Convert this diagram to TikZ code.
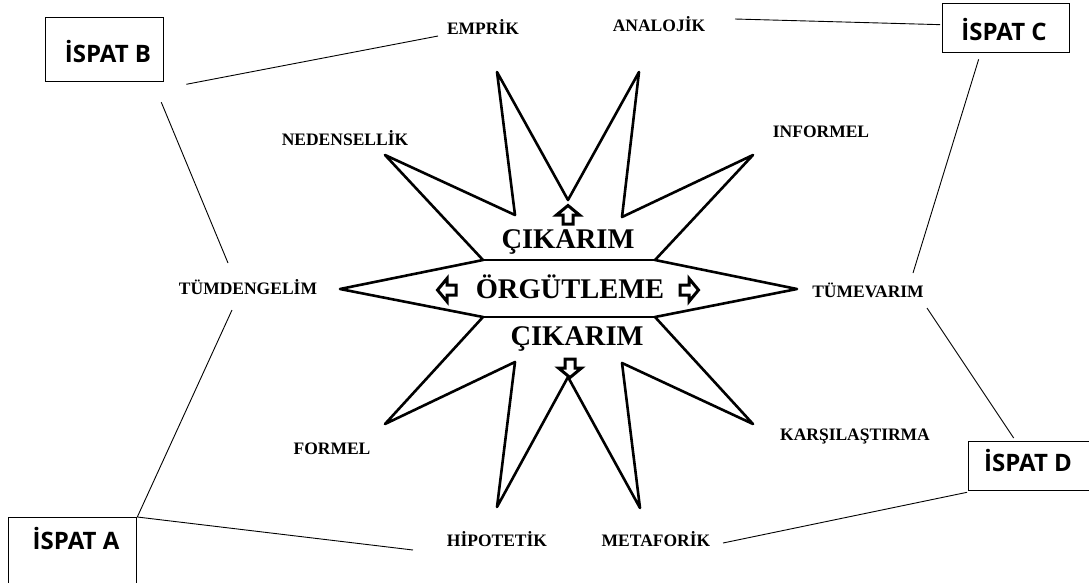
\documentclass[tikz,border=0pt]{standalone}
\usepackage{fontspec}
\setmainfont{Liberation Serif}
\newfontfamily\ispatfont{Open Sans}
\tikzset{
  starline/.style={line width=2.6pt, line join=round},
  conn/.style={line width=0.9pt},
  ispatbox/.style={draw, line width=1.3pt, inner sep=0pt, anchor=north west},
  ispattext/.style={anchor=base, inner sep=0pt, font=\ispatfont\bfseries\fontsize{24}{26}\selectfont},
  lab/.style={anchor=base, inner sep=0pt, font=\bfseries\fontsize{17.5}{20}\selectfont},
  bigtext/.style={anchor=base, inner sep=0pt, font=\bfseries\fontsize{28.5}{30}\selectfont},
  hollow/.style={line width=3pt, fill=white, line join=miter}
}
\newcommand\hollowarrow[3]{%
  \draw[hollow, shift={(#1,#2)}, rotate=#3] (-9,-5) -- (0,-5) -- (0,-11.5) -- (9.5,0) -- (0,11.5) -- (0,5) -- (-9,5) -- cycle;}
\begin{document}
\begin{tikzpicture}[x=1pt,y=-1pt]
\useasboundingbox[fill=white] (0,0) rectangle (1089,582);

% star
\draw[starline] (340,289) -- (483,260) -- (385,155) -- (515,215) -- (497,72) -- (568,200)
  -- (639,72) -- (622,217) -- (753,155) -- (655,260) -- (797,289) -- (655,317)
  -- (753,424) -- (622,363) -- (640,508) -- (568,377) -- (497,507) -- (515,362)
  -- (385,424) -- (483,317) -- cycle;
\draw[starline] (483,260) -- (655,260);
\draw[starline] (483,317) -- (655,317);

% small hollow arrows
\hollowarrow{568}{215}{90}
\hollowarrow{570}{368}{-90}
\hollowarrow{447}{290}{180}
\hollowarrow{689}{290}{0}

% centre texts
\node[bigtext] (cik1) at (568,248) {ÇIKARIM};
\node[bigtext] (org) at (570,298) {ÖRGÜTLEME};
\node[bigtext] (cik2) at (577,345) {ÇIKARIM};

% labels
\node[lab] (emprik) at (483,34) {EMPRİK};
\node[lab] (analojik) at (659,31) {ANALOJİK};
\node[lab] (neden) at (345,145) {NEDENSELLİK};
\node[lab] (informel) at (821,137) {INFORMEL};
\node[lab] (tumden) at (248,294) {TÜMDENGELİM};
\node[lab] (tumev) at (868,297) {TÜMEVARIM};
\node[lab] (formel) at (332,454) {FORMEL};
\node[lab] (kars) at (855,440) {KARŞILAŞTIRMA};
\node[lab] (hipo) at (497,546) {HİPOTETİK};
\node[lab] (meta) at (656,546) {METAFORİK};

% boxes
\node[ispatbox, minimum width=118pt, minimum height=64pt] (boxB) at (45,17) {};
\node[ispattext] (tB) at (108,62) {İSPAT B};
\node[ispatbox, minimum width=127pt, minimum height=49pt] (boxC) at (942,3) {};
\node[ispattext] (tC) at (1004,40) {İSPAT C};
\node[ispatbox, minimum width=128pt, minimum height=72pt] (boxA) at (8,517) {};
\node[ispattext] (tA) at (76,549) {İSPAT A};
\node[ispatbox, minimum width=127pt, minimum height=49pt] (boxD) at (968,441) {};
\node[ispattext] (tD) at (1028,471) {İSPAT D};

% connectors
\draw[conn] ([shift={(22,2)}]boxB.south east) -- ([shift={(-45,2)}]emprik.base);
\draw[conn] ([shift={(-3,20)}]boxB.south east) -- ([shift={(-20,-31)}]tumden.base);
\draw[conn] ([shift={(76,-12)}]analojik.base) -- ([shift={(-2,-3.5)}]boxC.west);
\draw[conn] ([shift={(-27.5,6)}]boxC.south) -- ([shift={(45,-24)}]tumev.base);
\draw[conn] ([shift={(59,11)}]tumev.base) -- ([shift={(-18.5,-3)}]boxD.north);
\draw[conn] ([shift={(-1,1)}]boxD.south west) -- ([shift={(67,-3)}]meta.base);
\draw[conn] (boxA.north east) -- ([shift={(-84,4)}]hipo.base);
\draw[conn] ([shift={(-16,16)}]tumden.base) -- (boxA.north east);
\end{tikzpicture}
\end{document}
